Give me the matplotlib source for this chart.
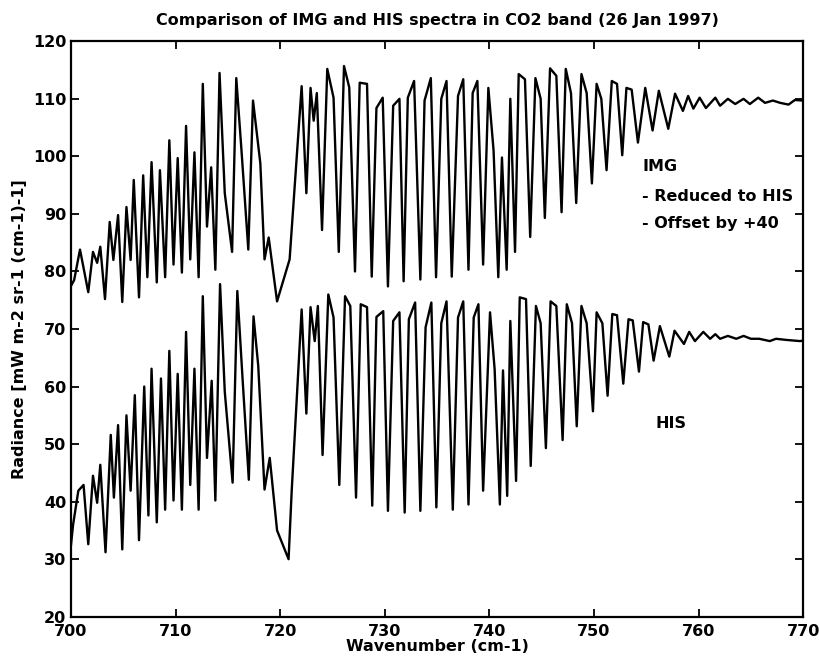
import matplotlib
matplotlib.use('Agg')
import matplotlib.pyplot as plt

# IMG spectrum (reduced to HIS, offset by +40)
img_wn = [700.0, 700.3, 700.86, 701.65, 702.1, 702.5, 702.8, 703.25, 703.7, 704.05,
          704.5, 704.9, 705.3, 705.7, 706.0, 706.5, 706.9, 707.3, 707.7, 708.2,
          708.5, 709.0, 709.4, 709.8, 710.2, 710.6, 711.0, 711.4, 711.8, 712.2,
          712.6, 713.0, 713.4, 713.8, 714.2, 714.7, 715.4, 715.8, 716.3, 716.95,
          717.4, 718.1, 718.5, 718.9, 719.7, 720.9, 722.05, 722.5, 722.9, 723.2,
          723.5, 724.0, 724.5, 725.1, 725.6, 726.1, 726.6, 727.15, 727.6, 728.3,
          728.75, 729.2, 729.8, 730.3, 730.8, 731.4, 731.8, 732.2, 732.8, 733.4,
          733.8, 734.4, 734.9, 735.4, 735.9, 736.4, 737.0, 737.5, 738.0, 738.4,
          738.85, 739.4, 739.9, 740.4, 740.85, 741.2, 741.65, 742.0, 742.45, 742.8,
          743.4, 743.9, 744.4, 744.9, 745.3, 745.8, 746.4, 746.9, 747.3, 747.8,
          748.3, 748.8, 749.3, 749.8, 750.25, 750.7, 751.2, 751.7, 752.2, 752.7,
          753.1, 753.6, 754.2, 754.9, 755.6, 756.2, 757.1, 757.75, 758.5, 759.0,
          759.5, 760.1, 760.7, 761.6, 762.05, 762.8, 763.5, 764.3, 764.9, 765.7,
          766.35, 767.1, 767.8, 768.6, 769.2, 770.0]
img_rad = [77.5, 78.5, 83.8, 76.4, 83.4, 81.5, 84.3, 75.2, 88.6, 82.0,
           89.8, 74.7, 91.2, 82.0, 95.9, 75.5, 96.7, 79.0, 99.0, 78.1,
           97.6, 79.0, 102.8, 81.2, 99.7, 79.8, 105.3, 82.1, 100.7, 79.0,
           112.6, 87.8, 98.1, 80.3, 114.5, 93.6, 83.4, 113.6, 101.0, 83.8,
           109.7, 98.8, 82.1, 85.9, 74.8, 82.1, 112.2, 93.6, 111.9, 106.2,
           111.0, 87.2, 115.2, 110.2, 83.4, 115.7, 112.0, 80.0, 112.8, 112.6,
           79.1, 108.4, 110.2, 77.4, 108.8, 110.0, 78.3, 110.2, 113.1, 78.6,
           109.7, 113.6, 79.0, 110.0, 113.1, 79.1, 110.5, 113.4, 80.3, 111.0,
           113.1, 81.2, 111.9, 101.0, 79.0, 99.8, 80.3, 110.0, 83.4, 114.3,
           113.4, 86.0, 113.6, 110.0, 89.3, 115.3, 114.0, 90.3, 115.2, 111.0,
           91.9, 114.3, 111.0, 95.3, 112.6, 110.0, 97.6, 113.1, 112.6, 100.2,
           111.9, 111.6, 102.4, 111.9, 104.5, 111.4, 104.8, 110.9, 107.9, 110.5,
           108.3, 110.2, 108.4, 110.2, 108.8, 110.0, 109.1, 110.0, 109.1, 110.2,
           109.3, 109.7, 109.3, 109.0, 109.8, 109.7]

# HIS spectrum
his_wn = [700.0, 700.2, 700.7, 701.2, 701.65, 702.1, 702.5, 702.8, 703.3, 703.8,
          704.1, 704.5, 704.9, 705.3, 705.7, 706.1, 706.5, 707.0, 707.4, 707.7,
          708.2, 708.6, 709.0, 709.4, 709.8, 710.2, 710.6, 711.0, 711.4, 711.8,
          712.2, 712.6, 713.0, 713.45, 713.8, 714.25, 714.7, 715.45, 715.9, 716.4,
          717.0, 717.45, 717.9, 718.5, 719.0, 719.7, 720.8, 721.1, 722.05, 722.5,
          722.9, 723.3, 723.6, 724.05, 724.6, 725.1, 725.65, 726.2, 726.7, 727.25,
          727.7, 728.3, 728.8, 729.2, 729.85, 730.3, 730.8, 731.4, 731.9, 732.3,
          732.9, 733.4, 733.9, 734.45, 734.93, 735.4, 735.9, 736.5, 737.0, 737.5,
          738.0, 738.5, 738.95, 739.4, 740.06, 740.5, 741.0, 741.3, 741.7, 742.0,
          742.55, 742.9, 743.5, 743.95, 744.45, 744.9, 745.4, 745.85, 746.4, 747.0,
          747.4, 747.9, 748.35, 748.8, 749.3, 749.9, 750.25, 750.8, 751.3, 751.75,
          752.2, 752.8, 753.3, 753.7, 754.3, 754.7, 755.2, 755.7, 756.3, 757.2,
          757.7, 758.6, 759.1, 759.65, 760.45, 761.1, 761.6, 762.05, 762.8, 763.6,
          764.3, 765.0, 765.8, 766.8, 767.4, 768.4, 769.7, 770.0]
his_rad = [32.5, 36.0, 41.9, 42.9, 32.6, 44.5, 39.8, 46.4, 31.2, 51.6,
           40.7, 53.3, 31.7, 55.0, 41.9, 58.5, 33.3, 60.0, 37.6, 63.1,
           36.4, 61.4, 38.6, 66.2, 40.2, 62.2, 38.6, 69.5, 42.9, 63.1,
           38.6, 75.7, 47.6, 61.0, 40.2, 77.8, 59.1, 43.3, 76.6, 61.4,
           43.8, 72.2, 63.6, 42.1, 47.6, 35.0, 30.0, 41.9, 73.4, 55.3,
           73.8, 67.9, 74.0, 48.1, 76.0, 72.0, 42.9, 75.7, 74.0, 40.7,
           74.3, 73.8, 39.3, 72.1, 73.1, 38.4, 71.4, 72.9, 38.1, 71.7,
           74.6, 38.4, 70.3, 74.6, 39.0, 71.0, 74.8, 38.6, 72.0, 74.8,
           39.5, 72.0, 74.3, 41.9, 72.9, 63.0, 39.5, 62.8, 41.0, 71.4,
           43.6, 75.5, 75.2, 46.2, 74.0, 71.0, 49.3, 74.8, 74.0, 50.7,
           74.3, 71.0, 53.1, 74.0, 71.0, 55.7, 72.9, 71.0, 58.4, 72.6,
           72.4, 60.5, 71.7, 71.5, 62.6, 71.2, 70.8, 64.5, 70.5, 65.2,
           69.7, 67.4, 69.5, 67.9, 69.5, 68.3, 69.1, 68.3, 68.8, 68.3,
           68.8, 68.3, 68.3, 67.9, 68.3, 68.1, 67.9, 68.0]

xticks = [700, 710, 720, 730, 740, 750, 760, 770]
yticks = [20, 30, 40, 50, 60, 70, 80, 90, 100, 110, 120]

plt.rcParams['font.family'] = ['DejaVu Sans']
plt.rcParams['font.weight'] = 'bold'

fig = plt.figure(figsize=(8.19, 6.66), dpi=100)
ax = fig.add_axes([0.0867, 0.074, 0.894, 0.864])

ax.plot(img_wn, img_rad, color='black', lw=1.7)
ax.plot(his_wn, his_rad, color='black', lw=1.7)

ax.set_xlim(700, 770)
ax.set_ylim(20, 120)
ax.set_xticks(xticks)
ax.set_yticks(yticks)
ax.tick_params(direction='in', top=True, right=True, length=6, width=1.3,
               labelsize=11.5)
ax.tick_params(axis='x', pad=5)
for s in ax.spines.values():
    s.set_linewidth(1.6)

ax.set_title('Comparison of IMG and HIS spectra in CO2 band (26 Jan 1997)',
             fontsize=11.5, fontweight='bold', pad=12)
ax.set_xlabel('Wavenumber (cm-1)', fontsize=11.5, fontweight='bold', labelpad=0)
ax.set_ylabel('Radiance [mW m-2 sr-1 (cm-1)-1]', fontsize=11.5,
              fontweight='bold', labelpad=4)

ax.text(754.6, 98.3, 'IMG', fontsize=11.5, fontweight='bold', va='center')
ax.text(754.6, 93.1, '- Reduced to HIS', fontsize=11.5, fontweight='bold', va='center')
ax.text(754.6, 88.3, '- Offset by +40', fontsize=11.5, fontweight='bold', va='center')
ax.text(755.9, 53.6, 'HIS', fontsize=11.5, fontweight='bold', va='center')

fig.savefig('out.png', dpi=100)
